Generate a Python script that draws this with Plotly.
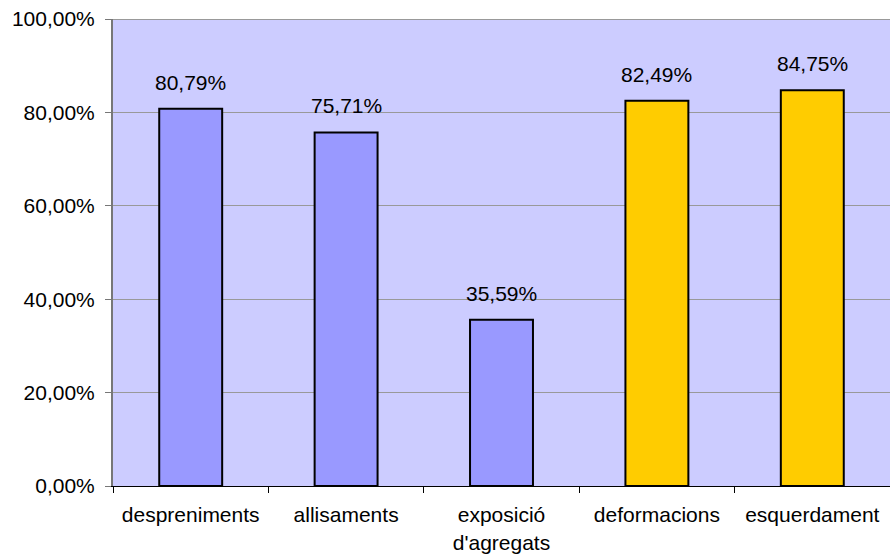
import plotly.graph_objects as go

categories = ["despreniments", "allisaments", "exposició<br>d'agregats", "deformacions", "esquerdament"]
values = [80.79, 75.71, 35.59, 82.49, 84.75]
labels = ["80,79%", "75,71%", "35,59%", "82,49%", "84,75%"]
colors = ["#9999FF", "#9999FF", "#9999FF", "#FFCC00", "#FFCC00"]
y_ticks = [0, 20, 40, 60, 80, 100]
y_tick_labels = ["0,00%", "20,00%", "40,00%", "60,00%", "80,00%", "100,00%"]

FONT = "Liberation Sans, Arial"

fig = go.Figure()
fig.add_trace(go.Bar(
    x=categories, y=values,
    marker=dict(color=colors, line=dict(color="black", width=2)),
    width=0.405, hoverinfo="skip",
))
for c, v, t in zip(categories, values, labels):
    fig.add_annotation(x=c, y=v, text=t, showarrow=False, yanchor="bottom", yshift=13,
                       font=dict(family=FONT, size=21, color="black"))

fig.update_layout(
    width=890, height=558,
    margin=dict(l=113, r=0, t=19, b=72),
    paper_bgcolor="white", plot_bgcolor="#CCCCFF",
    showlegend=False,
    font=dict(family=FONT, size=21, color="black"),
    xaxis=dict(showline=True, linecolor="black", linewidth=1, ticks="outside", tickson="boundaries",
               ticklen=6, tickcolor="black", showgrid=False, ticklabelstandoff=10),
    yaxis=dict(range=[0, 100], tickvals=y_ticks, ticktext=y_tick_labels, showline=True,
               linecolor="#777777", linewidth=2, ticks="outside", ticklen=6, tickcolor="#777777",
               showgrid=True, gridcolor="#999999", gridwidth=1, zeroline=False,
               ticklabelstandoff=6),
)
fig.add_shape(type="line", xref="paper", yref="y", x0=0, x1=1, y0=100, y1=100,
              line=dict(color="#999999", width=2))
fig.write_html("out.html", config={"displayModeBar": False},
               post_script="document.body.style.margin='0';document.body.style.overflow='hidden';")
